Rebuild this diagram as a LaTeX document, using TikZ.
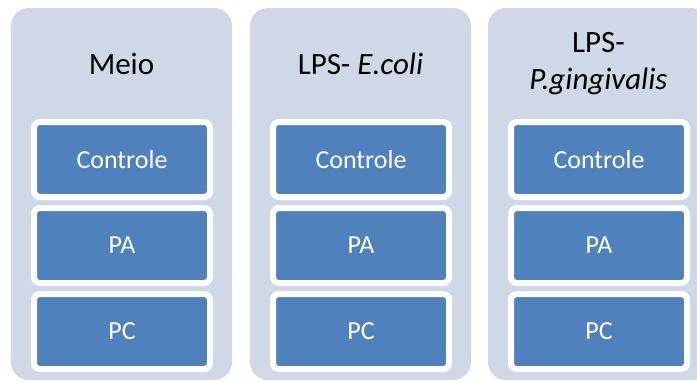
\documentclass[tikz,border=0pt]{standalone}
\usepackage{fontspec}
\setmainfont{Carlito}
\usetikzlibrary{positioning}
\definecolor{panelgray}{HTML}{D0D8E8}
\definecolor{groupblue}{HTML}{4F81BD}

\begin{document}
\begin{tikzpicture}[x=1pt,y=-1pt,node distance=5pt,
                    panel/.style={fill=panelgray,rounded corners=18pt,inner sep=0pt,
                                  minimum width=221pt,minimum height=372pt},
                    title/.style={align=center,text=black,font=\fontsize{31}{37}\selectfont},
                    group/.style={fill=groupblue,draw=white,line width=6pt,rounded corners=6pt,
                                  minimum width=176pt,minimum height=75pt,text=white,
                                  font=\fontsize{26}{30}\selectfont}]

  \useasboundingbox (0,0) rectangle (697,383);
  \clip (0,0) rectangle (697,383);

  % panels
  \node[panel] (meio) at (121.5,194) {};
  \node[panel] (ecoli) at (360.5,194) {};
  \node[panel] (pging) at (598.5,194) {};

  \node[title] (t1) at (121.5,63.5) {Meio};
  \node[title] (t2) at (360.5,63.5) {LPS- \textit{E.coli}};
  \node[title] (t3) at (598.5,63.5) {LPS-\\\textit{P.gingivalis}};

  % groups
  \node[group] (c1) at (122,159.5) {Controle};
  \node[group] (a1) [below=of c1] {PA};
  \node[group] (p1) [below=of a1] {PC};

  \node[group] (c2) at (361,159.5) {Controle};
  \node[group] (a2) [below=of c2] {PA};
  \node[group] (p2) [below=of a2] {PC};

  \node[group] (c3) at (599,159.5) {Controle};
  \node[group] (a3) [below=of c3] {PA};
  \node[group] (p3) [below=of a3] {PC};
\end{tikzpicture}
\end{document}
